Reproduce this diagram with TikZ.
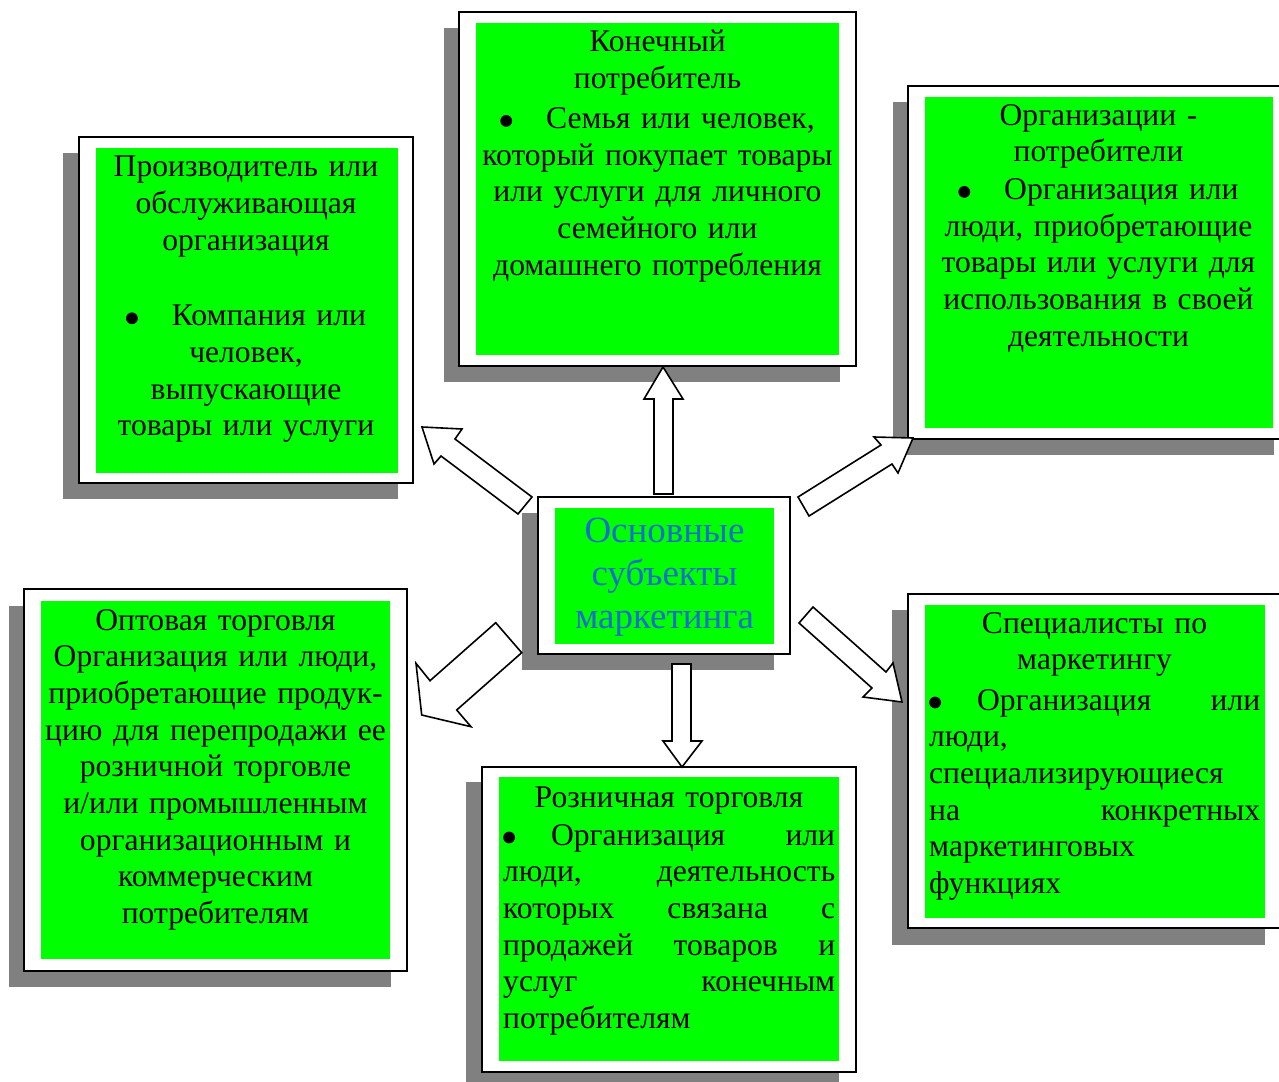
\documentclass[tikz,border=0pt]{standalone}
\usepackage{fontspec}
\setmainfont{Liberation Serif}
\definecolor{boxgreen}{RGB}{0,255,0}
\definecolor{shadowgray}{RGB}{128,128,128}
\definecolor{titleblue}{RGB}{25,110,200}
\newcommand\bigbul{\tikz[baseline=0pt]\fill[black] (0pt,7.5pt) circle[radius=5.9pt];}
\tikzset{
  shadowrect/.style={fill=shadowgray, draw=none},
  framebox/.style={fill=white, draw=black, line width=1.8pt},
  greenrect/.style={fill=boxgreen, draw=none},
  ctext/.style={font=\fontsize{31.6}{36.7}\selectfont, inner sep=0pt, anchor=base, align=center, text width=420pt},
  jtext/.style={font=\fontsize{31.6}{36.7}\selectfont, inner sep=0pt, anchor=base west, align=justify, text width=#1},
  blockarrow/.style={draw=black, fill=white, line width=1.6pt, line join=miter},
}
\begin{document}
\begin{tikzpicture}[x=1pt,y=-1pt]
\useasboundingbox (0,0) rectangle (1279,1081);
\fill[white] (0,0) rectangle (1279,1081);
% shadows
\path[shadowrect] (63,153) rectangle (398,499);
\path[shadowrect] (444,28) rectangle (840,382);
\path[shadowrect] (893,102) rectangle (1274,455);
\path[shadowrect] (522,513) rectangle (774,670);
\path[shadowrect] (9,606) rectangle (391,987);
\path[shadowrect] (466,782) rectangle (839,1090);
\path[shadowrect] (892,610) rectangle (1265,945);
% frames
\path[framebox] (79,137) rectangle (413,483);
\path[framebox] (459,12) rectangle (856,366);
\path[framebox] (908,86) rectangle (1292,439);
\path[framebox] (538,497) rectangle (790,654);
\path[framebox] (24,589) rectangle (407,971);
\path[framebox] (482,767) rectangle (856,1072);
\path[framebox] (908,594) rectangle (1292,928);
% green fills
\path[greenrect] (96,148) rectangle (398,473);
\path[greenrect] (476,23) rectangle (839,355);
\path[greenrect] (925,97) rectangle (1273,428);
\path[greenrect] (555,508) rectangle (774,644);
\path[greenrect] (41,601) rectangle (390,959);
\path[greenrect] (499,777) rectangle (839,1061);
\path[greenrect] (925,605) rectangle (1265,918);
% texts
\node[ctext] (prod) at (246,176.7) {Производитель или\\ обслуживающая\\ организация\\[39pt] \bigbul\hspace{34pt}Компания или\\ человек,\\ выпускающие\\ товары или услуги};
\node[ctext] (cons) at (657.5,52) {Конечный\\ потребитель\\[3pt] \bigbul\hspace{34pt}Семья или человек,\\ который покупает товары\\ или услуги для личного\\ семейного или\\ домашнего потребления};
\node[ctext] (orgs) at (1098.5,125) {Организации -\\ потребители\\[1pt] \bigbul\hspace{34pt}Организация или\\ люди, приобретающие\\ товары или услуги для\\ использования в своей\\ деятельности};
\node[font=\fontsize{37}{43}\selectfont, text=titleblue, inner sep=0pt, anchor=base, align=center, text width=260pt] (main) at (664.5,542) {Основные\\ субъекты\\ маркетинга};
\node[ctext] (whole) at (215.5,630) {Оптовая торговля\\ Организация или люди,\\ приобретающие продук-\\ цию для перепродажи ее\\ розничной торговле\\ и/или промышленным\\ организационным и\\ коммерческим\\ потребителям};
\node[ctext] (retailhead) at (669,807) {Розничная торговля};
\node[jtext=332pt] (retail) at (503,845) {\bigbul\hspace{36pt}Организация или\linebreak люди, деятельность\linebreak которых связана с\linebreak продажей товаров и\linebreak услуг конечным\linebreak потребителям};
\node[ctext] (spechead) at (1094.5,633) {Специалисты по\\ маркетингу};
\node[jtext=331pt] (spec) at (929,710) {\bigbul\hspace{36pt}Организация или\linebreak люди,\linebreak специализирующиеся\linebreak на конкретных\linebreak маркетинговых\linebreak функциях};
% block arrows
\draw[blockarrow] (654,494) -- (654,399) -- (644,399) -- (663,367) -- (683,399) -- (673,399) -- (673,494) -- cycle;
\draw[blockarrow] (672,664) -- (672,741) -- (663,741) -- (682,767) -- (702,741) -- (691,741) -- (691,664) -- cycle;
\draw[blockarrow] (532,497) -- (455,439) -- (462,429) -- (422,427) -- (434,464) -- (441,456) -- (518,514) -- cycle;
\draw[blockarrow] (798,497) -- (881,445) -- (874,437) -- (913,438) -- (898,473) -- (892,464) -- (809,516) -- cycle;
\draw[blockarrow] (495.7,622.7) -- (430,680.7) -- (416,663.3) -- (421.7,715) -- (471,726.7) -- (456.7,710) -- (521.7,652.7) -- cycle;
\draw[blockarrow] (813,607) -- (886,672) -- (893,663) -- (902,702) -- (863,697) -- (872,688) -- (799,623) -- cycle;
\end{tikzpicture}
\end{document}
